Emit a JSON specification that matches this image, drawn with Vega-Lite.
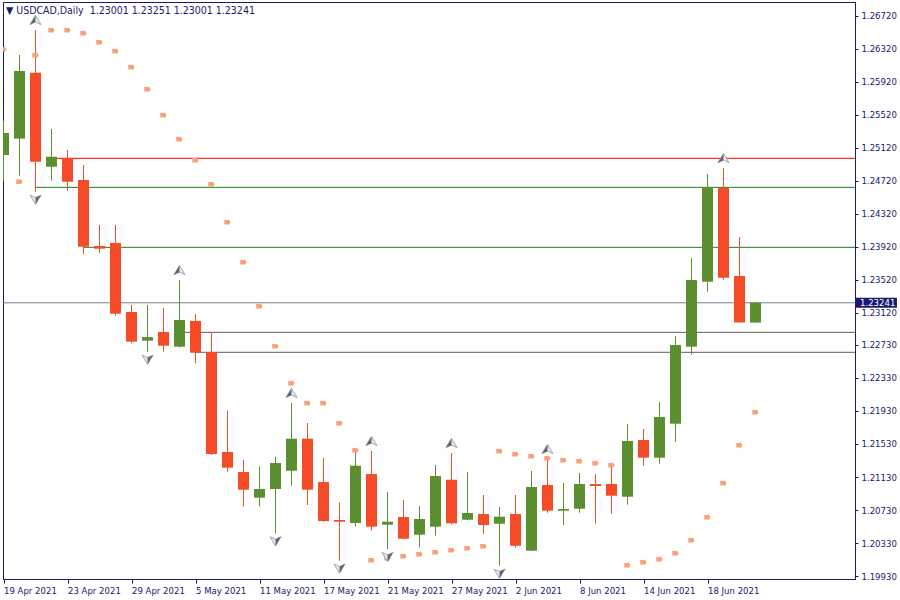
{
  "$schema": "https://vega.github.io/schema/vega-lite/v6.json",
  "width": 852,
  "height": 577,
  "padding": {"left": 3, "top": 2, "right": 45, "bottom": 21},
  "autosize": {"type": "none"},
  "background": "white",
  "config": {
    "view": {"stroke": "#191970", "strokeWidth": 1},
    "font": "DejaVu Sans Condensed, DejaVu Sans",
    "scale": {"continuousPadding": 0},
    "axis": {"labelOverlap": false, "labelBound": false, "labelFlush": false, "grid": false}
  },
  "datasets": {
    "candles": [
      {"d": "19 Apr", "i": 0, "o": 1.25032, "h": 1.25448, "l": 1.24708, "c": 1.25299},
      {"d": "20 Apr", "i": 1, "o": 1.25230, "h": 1.26244, "l": 1.24781, "c": 1.26050},
      {"d": "21 Apr", "i": 2, "o": 1.26029, "h": 1.26547, "l": 1.24587, "c": 1.24951},
      {"d": "22 Apr", "i": 3, "o": 1.24890, "h": 1.25347, "l": 1.24721, "c": 1.25011},
      {"d": "23 Apr", "i": 4, "o": 1.24996, "h": 1.25093, "l": 1.24599, "c": 1.24708},
      {"d": "26 Apr", "i": 5, "o": 1.24729, "h": 1.24911, "l": 1.23829, "c": 1.23921},
      {"d": "27 Apr", "i": 6, "o": 1.23929, "h": 1.24184, "l": 1.23848, "c": 1.23897},
      {"d": "28 Apr", "i": 7, "o": 1.23966, "h": 1.24184, "l": 1.23085, "c": 1.23109},
      {"d": "29 Apr", "i": 8, "o": 1.23129, "h": 1.23214, "l": 1.22750, "c": 1.22770},
      {"d": "30 Apr", "i": 9, "o": 1.22782, "h": 1.23214, "l": 1.22648, "c": 1.22826},
      {"d": "3 May", "i": 10, "o": 1.22887, "h": 1.23178, "l": 1.22648, "c": 1.22721},
      {"d": "4 May", "i": 11, "o": 1.22709, "h": 1.23517, "l": 1.22700, "c": 1.23033},
      {"d": "5 May", "i": 12, "o": 1.23020, "h": 1.23105, "l": 1.22508, "c": 1.22636},
      {"d": "6 May", "i": 13, "o": 1.22645, "h": 1.22883, "l": 1.21397, "c": 1.21409},
      {"d": "7 May", "i": 14, "o": 1.21433, "h": 1.21933, "l": 1.21194, "c": 1.21243},
      {"d": "10 May", "i": 15, "o": 1.21191, "h": 1.21336, "l": 1.20770, "c": 1.20976},
      {"d": "11 May", "i": 16, "o": 1.20879, "h": 1.21255, "l": 1.20770, "c": 1.20985},
      {"d": "12 May", "i": 17, "o": 1.20985, "h": 1.21376, "l": 1.20448, "c": 1.21300},
      {"d": "13 May", "i": 18, "o": 1.21206, "h": 1.22027, "l": 1.21025, "c": 1.21594},
      {"d": "14 May", "i": 19, "o": 1.21594, "h": 1.21784, "l": 1.20791, "c": 1.20976},
      {"d": "17 May", "i": 20, "o": 1.21069, "h": 1.21364, "l": 1.20588, "c": 1.20597},
      {"d": "18 May", "i": 21, "o": 1.20609, "h": 1.20819, "l": 1.20116, "c": 1.20588},
      {"d": "19 May", "i": 22, "o": 1.20573, "h": 1.21445, "l": 1.20528, "c": 1.21267},
      {"d": "20 May", "i": 23, "o": 1.21166, "h": 1.21445, "l": 1.20479, "c": 1.20528},
      {"d": "21 May", "i": 24, "o": 1.20552, "h": 1.20948, "l": 1.20257, "c": 1.20588},
      {"d": "24 May", "i": 25, "o": 1.20645, "h": 1.20851, "l": 1.20375, "c": 1.20382},
      {"d": "25 May", "i": 26, "o": 1.20431, "h": 1.20779, "l": 1.20278, "c": 1.20621},
      {"d": "26 May", "i": 27, "o": 1.20528, "h": 1.21275, "l": 1.20419, "c": 1.21142},
      {"d": "27 May", "i": 28, "o": 1.21097, "h": 1.21421, "l": 1.20557, "c": 1.20569},
      {"d": "28 May", "i": 29, "o": 1.20612, "h": 1.21191, "l": 1.20610, "c": 1.20694},
      {"d": "31 May", "i": 30, "o": 1.20682, "h": 1.20912, "l": 1.20439, "c": 1.20548},
      {"d": "1 Jun", "i": 31, "o": 1.20564, "h": 1.20766, "l": 1.20055, "c": 1.20649},
      {"d": "2 Jun", "i": 32, "o": 1.20682, "h": 1.20912, "l": 1.20273, "c": 1.20297},
      {"d": "3 Jun", "i": 33, "o": 1.20237, "h": 1.21203, "l": 1.20235, "c": 1.21009},
      {"d": "4 Jun", "i": 34, "o": 1.21033, "h": 1.21348, "l": 1.20697, "c": 1.20722},
      {"d": "7 Jun", "i": 35, "o": 1.20722, "h": 1.21057, "l": 1.20548, "c": 1.20742},
      {"d": "8 Jun", "i": 36, "o": 1.20746, "h": 1.21178, "l": 1.20697, "c": 1.21045},
      {"d": "9 Jun", "i": 37, "o": 1.21045, "h": 1.21166, "l": 1.20564, "c": 1.21021},
      {"d": "10 Jun", "i": 38, "o": 1.21045, "h": 1.21263, "l": 1.20685, "c": 1.20903},
      {"d": "11 Jun", "i": 39, "o": 1.20891, "h": 1.21772, "l": 1.20794, "c": 1.21566},
      {"d": "14 Jun", "i": 40, "o": 1.21578, "h": 1.21712, "l": 1.21267, "c": 1.21364},
      {"d": "15 Jun", "i": 41, "o": 1.21364, "h": 1.22039, "l": 1.21291, "c": 1.21857},
      {"d": "16 Jun", "i": 42, "o": 1.21776, "h": 1.22839, "l": 1.21558, "c": 1.22730},
      {"d": "17 Jun", "i": 43, "o": 1.22709, "h": 1.23784, "l": 1.22612, "c": 1.23517},
      {"d": "18 Jun", "i": 44, "o": 1.23497, "h": 1.24802, "l": 1.23375, "c": 1.24644},
      {"d": "21 Jun", "i": 45, "o": 1.24632, "h": 1.24874, "l": 1.23521, "c": 1.23545},
      {"d": "22 Jun", "i": 46, "o": 1.23566, "h": 1.24038, "l": 1.23001, "c": 1.23003},
      {"d": "23 Jun", "i": 47, "o": 1.23001, "h": 1.23251, "l": 1.23001, "c": 1.23241}
    ],
    "sar": [
      {"i": 0, "v": 1.26313}, {"i": 1, "v": 1.24708}, {"i": 2, "v": 1.26240}, {"i": 3, "v": 1.26543},
      {"i": 4, "v": 1.26543}, {"i": 5, "v": 1.26507}, {"i": 6, "v": 1.26398}, {"i": 7, "v": 1.26289},
      {"i": 8, "v": 1.26095}, {"i": 9, "v": 1.25828}, {"i": 10, "v": 1.25513}, {"i": 11, "v": 1.25222},
      {"i": 12, "v": 1.24968}, {"i": 13, "v": 1.24677}, {"i": 14, "v": 1.24216}, {"i": 15, "v": 1.23732},
      {"i": 16, "v": 1.23199}, {"i": 17, "v": 1.22714}, {"i": 18, "v": 1.22265}, {"i": 19, "v": 1.22023},
      {"i": 20, "v": 1.22023}, {"i": 21, "v": 1.21781}, {"i": 22, "v": 1.21454}, {"i": 23, "v": 1.20121},
      {"i": 24, "v": 1.20145}, {"i": 25, "v": 1.20169}, {"i": 26, "v": 1.20193}, {"i": 27, "v": 1.20217},
      {"i": 28, "v": 1.20242}, {"i": 29, "v": 1.20266}, {"i": 30, "v": 1.20290}, {"i": 31, "v": 1.21441},
      {"i": 32, "v": 1.21405}, {"i": 33, "v": 1.21381}, {"i": 34, "v": 1.21357}, {"i": 35, "v": 1.21332},
      {"i": 36, "v": 1.21320}, {"i": 37, "v": 1.21296}, {"i": 38, "v": 1.21272}, {"i": 39, "v": 1.20060},
      {"i": 40, "v": 1.20096}, {"i": 41, "v": 1.20133}, {"i": 42, "v": 1.20205}, {"i": 43, "v": 1.20363},
      {"i": 44, "v": 1.20642}, {"i": 45, "v": 1.21054}, {"i": 46, "v": 1.21514}, {"i": 47, "v": 1.21914}
    ],
    "fractals": [
      {"i": 2, "p": 1.26547, "dir": "up"}, {"i": 11, "p": 1.23517, "dir": "up"},
      {"i": 18, "p": 1.22027, "dir": "up"}, {"i": 23, "p": 1.21445, "dir": "up"},
      {"i": 28, "p": 1.21421, "dir": "up"}, {"i": 34, "p": 1.21348, "dir": "up"},
      {"i": 45, "p": 1.24874, "dir": "up"},
      {"i": 2, "p": 1.24587, "dir": "down"}, {"i": 9, "p": 1.22648, "dir": "down"},
      {"i": 17, "p": 1.20448, "dir": "down"}, {"i": 21, "p": 1.20116, "dir": "down"},
      {"i": 24, "p": 1.20257, "dir": "down"}, {"i": 31, "p": 1.20055, "dir": "down"}
    ],
    "levels": [
      {"p": 1.24992, "s": 3, "e": 54, "k": "red"},
      {"p": 1.24640, "s": 2, "e": 54, "k": "green"},
      {"p": 1.23913, "s": 5, "e": 54, "k": "green"},
      {"p": 1.23241, "s": -1, "e": 54, "k": "slate"},
      {"p": 1.22883, "s": 11, "e": 54, "k": "gray"},
      {"p": 1.22641, "s": 12, "e": 54, "k": "gray"}
    ]
  },
  "layer": [
    {
      "data": {"name": "levels"},
      "mark": {"type": "rule", "strokeWidth": 1, "clip": true},
      "encoding": {
        "x": {"field": "s", "type": "quantitative", "scale": {"domain": [-0.03125, 53.21875], "nice": false, "zero": false, "padding": 0}, "title": null,
          "axis": {"values": [0, 4, 8, 12, 16, 20, 24, 28, 32, 36, 40, 44], "tickCount": 30, "labelExpr": "['19 Apr 2021','23 Apr 2021','29 Apr 2021','5 May 2021','11 May 2021','17 May 2021','21 May 2021','27 May 2021','2 Jun 2021','8 Jun 2021','14 Jun 2021','18 Jun 2021'][datum.value/4]",
            "grid": false, "tickSize": 4, "tickColor": "#191970", "domainColor": "#191970", "labelColor": "#191970", "labelAlign": "left", "labelPadding": 2, "labelFontSize": 9.5, "labelFont": "DejaVu Sans Condensed, DejaVu Sans", "labelFlush": false, "labelOverlap": false, "labelBound": false}},
        "x2": {"field": "e"},
        "y": {"field": "p", "type": "quantitative", "scale": {"domain": [1.19894, 1.26886], "nice": false, "zero": false, "padding": 0}, "title": null,
          "axis": {"orient": "right", "values": [1.2672, 1.2632, 1.2592, 1.2552, 1.2512, 1.2472, 1.2432, 1.2392, 1.2352, 1.2312, 1.2273, 1.2233, 1.2193, 1.2153, 1.2113, 1.2073, 1.2033, 1.1993], "tickCount": 40, "format": ".5f",
            "grid": false, "tickSize": 3, "tickColor": "#191970", "domainColor": "#191970", "labelColor": "#191970", "labelPadding": 3, "labelFontSize": 9.5, "labelFont": "DejaVu Sans Condensed, DejaVu Sans", "labelOverlap": false, "labelBound": false, "labelFlush": false}},
        "color": {"field": "k", "type": "nominal", "scale": {"domain": ["red", "green", "slate", "gray"], "range": ["#ff0000", "#1b8014", "#6f8193", "#5c5c5c"]}, "legend": null}
      }
    },
    {
      "data": {"name": "candles"},
      "mark": {"type": "rule", "strokeWidth": 1, "clip": true},
      "encoding": {
        "x": {"field": "i", "type": "quantitative", "scale": {"domain": [-0.03125, 53.21875], "nice": false, "zero": false, "padding": 0}, "title": null},
        "y": {"field": "l", "type": "quantitative", "scale": {"domain": [1.19894, 1.26886], "nice": false, "zero": false, "padding": 0}, "title": null},
        "y2": {"field": "h"},
        "color": {"condition": {"test": "datum.c >= datum.o", "value": "#5b8f30"}, "value": "#f34c26"}
      }
    },
    {
      "data": {"name": "candles"},
      "mark": {"type": "bar", "size": 11, "clip": true, "strokeWidth": 0},
      "encoding": {
        "x": {"field": "i", "type": "quantitative", "scale": {"domain": [-0.03125, 53.21875], "nice": false, "zero": false, "padding": 0}, "title": null},
        "y": {"field": "o", "type": "quantitative", "scale": {"domain": [1.19894, 1.26886], "nice": false, "zero": false, "padding": 0}, "title": null},
        "y2": {"field": "c"},
        "color": {"condition": {"test": "datum.c >= datum.o", "value": "#5b8f30"}, "value": "#f34c26"}
      }
    },
    {
      "data": {"name": "sar"},
      "mark": {"type": "point", "shape": "M-1,-0.7L0.25,-0.7L0.25,-1L1,0L0.25,1L0.25,0.7L-1,0.7Z", "size": 42, "filled": true, "color": "#f9a07f", "opacity": 1, "clip": true},
      "encoding": {
        "x": {"field": "i", "type": "quantitative", "scale": {"domain": [-0.03125, 53.21875], "nice": false, "zero": false, "padding": 0}, "title": null},
        "y": {"field": "v", "type": "quantitative", "scale": {"domain": [1.19894, 1.26886], "nice": false, "zero": false, "padding": 0}, "title": null}
      }
    },
    {
      "data": {"name": "fractals"},
      "transform": [{"filter": "datum.dir == 'up'"}],
      "mark": {"type": "point", "shape": "M0,-0.75L0.9,0.75L0,0.35L-0.9,0.75Z", "size": 150, "filled": true, "fill": "#e8ecf2", "stroke": "#8f959e", "strokeWidth": 0.8, "opacity": 1, "yOffset": -10, "clip": true},
      "encoding": {
        "x": {"field": "i", "type": "quantitative", "scale": {"domain": [-0.03125, 53.21875], "nice": false, "zero": false, "padding": 0}, "title": null},
        "y": {"field": "p", "type": "quantitative", "scale": {"domain": [1.19894, 1.26886], "nice": false, "zero": false, "padding": 0}, "title": null}
      }
    },
    {
      "data": {"name": "fractals"},
      "transform": [{"filter": "datum.dir == 'up'"}],
      "mark": {"type": "point", "shape": "M0,-0.75L0,0.35L-0.9,0.75Z", "size": 150, "filled": true, "fill": "#62676e", "strokeWidth": 0, "opacity": 1, "yOffset": -10, "clip": true},
      "encoding": {
        "x": {"field": "i", "type": "quantitative", "scale": {"domain": [-0.03125, 53.21875], "nice": false, "zero": false, "padding": 0}, "title": null},
        "y": {"field": "p", "type": "quantitative", "scale": {"domain": [1.19894, 1.26886], "nice": false, "zero": false, "padding": 0}, "title": null}
      }
    },
    {
      "data": {"name": "fractals"},
      "transform": [{"filter": "datum.dir == 'down'"}],
      "mark": {"type": "point", "shape": "M0,0.75L0.9,-0.75L0,-0.35L-0.9,-0.75Z", "size": 150, "filled": true, "fill": "#e8ecf2", "stroke": "#8f959e", "strokeWidth": 0.8, "opacity": 1, "yOffset": 8, "clip": true},
      "encoding": {
        "x": {"field": "i", "type": "quantitative", "scale": {"domain": [-0.03125, 53.21875], "nice": false, "zero": false, "padding": 0}, "title": null},
        "y": {"field": "p", "type": "quantitative", "scale": {"domain": [1.19894, 1.26886], "nice": false, "zero": false, "padding": 0}, "title": null}
      }
    },
    {
      "data": {"name": "fractals"},
      "transform": [{"filter": "datum.dir == 'down'"}],
      "mark": {"type": "point", "shape": "M0,0.75L0,-0.35L0.9,-0.75Z", "size": 150, "filled": true, "fill": "#62676e", "strokeWidth": 0, "opacity": 1, "yOffset": 8, "clip": true},
      "encoding": {
        "x": {"field": "i", "type": "quantitative", "scale": {"domain": [-0.03125, 53.21875], "nice": false, "zero": false, "padding": 0}, "title": null},
        "y": {"field": "p", "type": "quantitative", "scale": {"domain": [1.19894, 1.26886], "nice": false, "zero": false, "padding": 0}, "title": null}
      }
    },
    {
      "data": {"name": "levels"},
      "transform": [{"filter": "datum.k == 'slate'"}],
      "mark": {"type": "bar", "size": 10, "color": "#191970", "clip": false, "orient": "horizontal"},
      "encoding": {
        "x": {"datum": 53.28, "type": "quantitative", "scale": {"domain": [-0.03125, 53.21875], "nice": false, "zero": false, "padding": 0}, "title": null},
        "x2": {"datum": 55.84},
        "y": {"field": "p", "type": "quantitative", "scale": {"domain": [1.19894, 1.26886], "nice": false, "zero": false, "padding": 0}, "title": null}
      }
    },
    {
      "data": {"name": "levels"},
      "transform": [{"filter": "datum.k == 'slate'"}],
      "mark": {"type": "text", "align": "left", "baseline": "middle", "dx": 4, "color": "white", "fontSize": 9.5, "font": "DejaVu Sans Condensed, DejaVu Sans", "clip": false},
      "encoding": {
        "x": {"datum": 53.28, "type": "quantitative", "scale": {"domain": [-0.03125, 53.21875], "nice": false, "zero": false, "padding": 0}, "title": null},
        "y": {"field": "p", "type": "quantitative", "scale": {"domain": [1.19894, 1.26886], "nice": false, "zero": false, "padding": 0}, "title": null},
        "text": {"field": "p", "type": "quantitative", "format": ".5f"}
      }
    },
    {
      "data": {"name": "levels"},
      "transform": [{"filter": "datum.k == 'slate'"}],
      "mark": {"type": "text", "align": "left", "baseline": "alphabetic", "dx": 3, "dy": 12, "color": "#191970", "fontSize": 10.5, "font": "DejaVu Sans Condensed, DejaVu Sans", "clip": false},
      "encoding": {
        "x": {"datum": -0.03125, "type": "quantitative", "scale": {"domain": [-0.03125, 53.21875], "nice": false, "zero": false, "padding": 0}, "title": null},
        "y": {"datum": 1.26886, "type": "quantitative", "scale": {"domain": [1.19894, 1.26886], "nice": false, "zero": false, "padding": 0}, "title": null},
        "text": {"value": "\u25bc USDCAD,Daily\u00a0 1.23001 1.23251 1.23001 1.23241"}
      }
    }
  ]
}
